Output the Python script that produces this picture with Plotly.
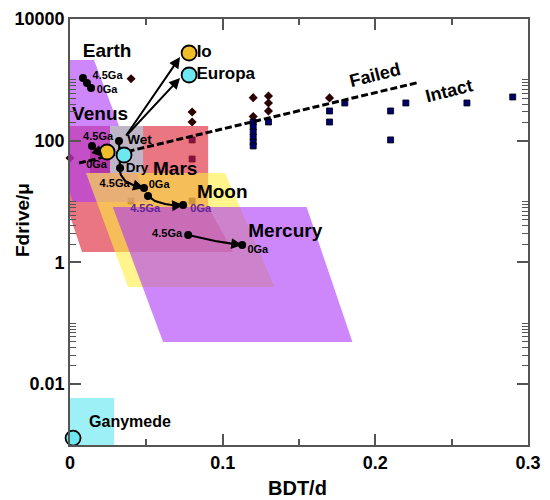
import math
import plotly.graph_objects as go

# ---------------- data ----------------
failed_x = [0.0, 0.040, 0.080, 0.080, 0.120, 0.120, 0.130, 0.130, 0.130, 0.170]
failed_y = [52, 1040, 296, 203, 510, 250, 543, 417, 308, 505]

intact_x = [0.080, 0.080, 0.040, 0.080, 0.120, 0.120, 0.120, 0.120, 0.120, 0.120,
            0.130, 0.170, 0.170, 0.180, 0.210, 0.210, 0.220, 0.260, 0.290]
intact_y = [103, 50, 10.2, 10.2, 203, 168, 139, 115, 95, 82,
            203, 308, 203, 417, 308, 103, 417, 417, 523]

venus_x = [0.0, 0.0905, 0.0905, 0.107, 0.0079, 0.0]
venus_y = [175, 175, 8.15, 1.49, 1.49, 5.8]
earth_x = [0.0, 0.0157, 0.0511, 0.002, 0.0]
earth_y = [2118, 2118, 9.84, 9.84, 13.8]
moon_x = [0.0105, 0.1016, 0.134, 0.038]
moon_y = [29.5, 29.5, 0.395, 0.395]
mercury_x = [0.028, 0.155, 0.185, 0.061]
mercury_y = [8.15, 8.15, 0.0493, 0.0493]
ganymede_x = [0.0, 0.0289, 0.0289, 0.0]
ganymede_y = [0.001, 0.001, 0.0059, 0.0059]
gray_x = [0.0262, 0.0479, 0.0479, 0.0262]
gray_y = [29.5, 29.5, 175, 175]
dark_x = [0.0131, 0.0262, 0.0262, 0.0131]
dark_y = [29.5, 29.5, 78.9, 78.9]

boundary_x = [0.0059, 0.228]
boundary_y = [43.0, 905]

earth_tr_x = [0.0085, 0.0111, 0.0138]
earth_tr_y = [1073, 888, 735]
venus_tr_x = [0.0144, 0.0216]
venus_tr_y = [81.9, 54.0]
wetdry_x = [0.0321, 0.0328]
wetdry_y = [99, 35.6]
mars_tr_x = [0.0321, 0.0334, 0.0361, 0.0413, 0.0485]
mars_tr_y = [35.6, 27.3, 21.8, 18.7, 16.7]
moon_tr_x = [0.0511, 0.0557, 0.0623, 0.0689, 0.0741]
moon_tr_y = [12.4, 10.2, 9.13, 8.62, 8.79]
merc_tr_x = [0.0774, 0.0852, 0.0951, 0.1049, 0.1128]
merc_tr_y = [2.82, 2.52, 2.25, 2.05, 1.93]

arrow_start = (0.0361, 115)
io_tip = (0.0721, 2375)
europa_tip = (0.0721, 1073)

circ_yellow_x = [0.0243, 0.0780]
circ_yellow_y = [65.3, 2763]
circ_cyan_x = [0.0354, 0.0780, 0.002]
circ_cyan_y = [58.3, 1202, 0.0013]

big_labels = ["Earth", "Venus", "Mars", "Moon", "Mercury"]
big_x = [0.0243, 0.0197, 0.0689, 0.0997, 0.141]
big_y = [2869, 265, 33.0, 13.8, 3.16]
moon_labels = ["Io", "Europa"]
moon_lx = [0.0879, 0.102]
moon_ly = [2763, 1202]
age_labels = ["4.5Ga", "0Ga", "4.5Ga", "0Ga", "4.5Ga", "0Ga", "4.5Ga", "0Ga"]
age_x = [0.0246, 0.0243, 0.0184, 0.0174, 0.0292, 0.0584, 0.0636, 0.123]
age_y = [1157, 681, 115, 39.9, 19.0, 18.6, 2.93, 1.60]
moon_age_labels = ["4.5Ga", "0Ga"]
moon_age_x = [0.0492, 0.0856]
moon_age_y = [7.55, 7.55]
wd_labels = ["Wet", "Dry"]
wd_x = [0.0456, 0.0439]
wd_y = [99, 34.3]

x_major = [0, 0.1, 0.2, 0.3]
x_major_text = ["0", "0.1", "0.2", "0.3"]
x_minor = [0.05, 0.15, 0.25]
y_major = [0.01, 1, 100, 10000]
y_major_text = ["0.01", "1", "100", "10000"]
y_minor = [k * 10 ** e for e in (-2, 0, 2) for k in range(2, 11)]

FONT = "Liberation Sans, Arial, sans-serif"
AX = "#555555"

fig = go.Figure()

# data points (drawn first so the translucent regions tint them)
fig.add_trace(go.Scatter(x=failed_x, y=failed_y, mode="markers", cliponaxis=False,
                         marker=dict(symbol="diamond", size=7, color="#2a0000"),
                         showlegend=False, hoverinfo="skip"))
fig.add_trace(go.Scatter(x=intact_x, y=intact_y, mode="markers",
                         marker=dict(symbol="square", size=6, color="#000070",
                                     line=dict(color="black", width=0.8)),
                         showlegend=False, hoverinfo="skip"))


def add_poly(xs, ys, color):
    fig.add_trace(go.Scatter(x=xs + [xs[0]], y=ys + [ys[0]], mode="lines",
                             fill="toself", fillcolor=color,
                             line=dict(width=0, color=color),
                             showlegend=False, hoverinfo="skip"))


add_poly(venus_x, venus_y, "rgba(218,27,43,0.6)")
add_poly(earth_x, earth_y, "rgba(172,55,247,0.6)")
add_poly(moon_x, moon_y, "rgba(255,238,63,0.6)")
add_poly(mercury_x, mercury_y, "rgba(172,55,247,0.6)")
add_poly(dark_x, dark_y, "rgb(180,55,170)")
add_poly(gray_x, gray_y, "rgb(190,182,198)")
add_poly(ganymede_x, ganymede_y, "rgba(140,238,245,0.85)")

# boundary
fig.add_trace(go.Scatter(x=boundary_x, y=boundary_y, mode="lines",
                         line=dict(color="black", width=3, dash="7px,3px"),
                         showlegend=False, hoverinfo="skip"))

# tracks
for tx, ty in [(earth_tr_x, earth_tr_y), (venus_tr_x, venus_tr_y), (wetdry_x, wetdry_y),
               (mars_tr_x, mars_tr_y), (moon_tr_x, moon_tr_y), (merc_tr_x, merc_tr_y)]:
    fig.add_trace(go.Scatter(x=tx, y=ty, mode="lines", line=dict(color="black", width=2.2),
                             showlegend=False, hoverinfo="skip"))

dot_x = earth_tr_x + [venus_tr_x[0], wetdry_x[0], wetdry_x[1], mars_tr_x[-1],
                      moon_tr_x[0], moon_tr_x[-1], merc_tr_x[0], merc_tr_x[-1]]
dot_y = earth_tr_y + [venus_tr_y[0], wetdry_y[0], wetdry_y[1], mars_tr_y[-1],
                      moon_tr_y[0], moon_tr_y[-1], merc_tr_y[0], merc_tr_y[-1]]
fig.add_trace(go.Scatter(x=dot_x, y=dot_y, mode="markers",
                         marker=dict(size=8, color="black"), showlegend=False, hoverinfo="skip"))

fig.add_trace(go.Scatter(x=circ_yellow_x, y=circ_yellow_y, mode="markers", cliponaxis=False,
                         marker=dict(size=15, color="rgb(240,190,40)", line=dict(color="black", width=1.8)),
                         showlegend=False, hoverinfo="skip"))
fig.add_trace(go.Scatter(x=circ_cyan_x, y=circ_cyan_y, mode="markers", cliponaxis=False,
                         marker=dict(size=15, color="rgb(110,232,240)", line=dict(color="black", width=1.8)),
                         showlegend=False, hoverinfo="skip"))


def add_text(labels, xs, ys, size, color="black"):
    fig.add_trace(go.Scatter(x=xs, y=ys, mode="text", text=labels, cliponaxis=False,
                             textposition="middle center",
                             textfont=dict(family=FONT, size=size, color=color, weight="bold"),
                             showlegend=False, hoverinfo="skip"))


add_text(big_labels, big_x, big_y, 19)
add_text(moon_labels, moon_lx, moon_ly, 17)
add_text(["Ganymede"], [0.0393], [0.0023], 16)
add_text(age_labels, age_x, age_y, 11)
add_text(moon_age_labels, moon_age_x, moon_age_y, 11, "rgb(100,35,150)")
add_text(wd_labels, wd_x, wd_y, 13.5)

# empty trace on the mirror axes so the top/right tick sets are drawn
fig.add_trace(go.Scatter(x=[None], y=[None], xaxis="x2", yaxis="y2",
                         showlegend=False, hoverinfo="skip"))

L = math.log10
ann = []


def arrow(x0, y0, x1, y1):
    ann.append(dict(x=x1, y=L(y1), ax=x0, ay=L(y0), xref="x", yref="y", axref="x", ayref="y",
                    showarrow=True, arrowhead=2, arrowsize=1.1, arrowwidth=2,
                    arrowcolor="black", text=""))


arrow(arrow_start[0], arrow_start[1], io_tip[0], io_tip[1])
arrow(arrow_start[0], arrow_start[1], europa_tip[0], europa_tip[1])
for tx, ty in [(venus_tr_x, venus_tr_y), (mars_tr_x, mars_tr_y),
               (moon_tr_x, moon_tr_y), (merc_tr_x, merc_tr_y)]:
    arrow(tx[-2], ty[-2], tx[-1], ty[-1])

ann.append(dict(x=0.2, y=3.08, xref="x", yref="y", text="Failed", showarrow=False, textangle=-14,
                font=dict(family=FONT, size=18, color="black", weight="bold")))
ann.append(dict(x=0.248, y=2.817, xref="x", yref="y", text="Intact", showarrow=False, textangle=-14,
                font=dict(family=FONT, size=18, color="black", weight="bold")))
ann.append(dict(x=0.496, y=-0.101, xref="paper", yref="paper", text="BDT/d", showarrow=False,
                xanchor="center", yanchor="middle",
                font=dict(family=FONT, size=20, color="black", weight="bold")))
ann.append(dict(x=-0.105, y=0.528, xref="paper", yref="paper", text="Fdrive/μ", showarrow=False,
                xanchor="center", yanchor="middle",
                textangle=-90, font=dict(family=FONT, size=19, color="black", weight="bold")))

tickfont = dict(family=FONT, size=18, color="black", weight="bold")
xminor = dict(tickvals=x_minor, ticks="inside", ticklen=6, tickwidth=1.5, tickcolor=AX, showgrid=False)
yminor = dict(tickvals=y_minor, ticks="inside", ticklen=6, tickwidth=1.2, tickcolor=AX, showgrid=False)

# page body has an 8px margin: shift the figure so the plot area lands where the reference has it
fig.update_layout(
    width=542, height=492,
    margin=dict(l=62, r=22, t=11, b=55, autoexpand=False),
    paper_bgcolor="white", plot_bgcolor="white",
    annotations=ann,
    xaxis=dict(range=[0, 0.3], tickvals=x_major, ticktext=x_major_text, automargin=False,
               ticks="inside", ticklen=11, tickwidth=1.5, tickcolor=AX,
               showline=True, linecolor=AX, linewidth=1.8, mirror=True,
               showgrid=False, zeroline=False, tickfont=tickfont, minor=xminor),
    yaxis=dict(type="log", range=[-3, 4], tickvals=y_major, ticktext=y_major_text, automargin=False,
               ticks="inside", ticklen=11, tickwidth=1.5, tickcolor=AX,
               showline=True, linecolor=AX, linewidth=1.8, mirror=True,
               showgrid=False, zeroline=False, tickfont=tickfont, minor=yminor),
    xaxis2=dict(overlaying="x", side="top", anchor="y2", range=[0, 0.3], tickvals=x_major,
                automargin=False,
                ticks="inside", ticklen=11, tickwidth=1.5, tickcolor=AX, showticklabels=False,
                showline=False, showgrid=False, zeroline=False, minor=xminor),
    yaxis2=dict(overlaying="y", side="right", anchor="x2", type="log", range=[-3, 4],
                automargin=False,
                tickvals=y_major, ticks="inside", ticklen=11, tickwidth=1.5, tickcolor=AX,
                showticklabels=False, showline=False, showgrid=False, zeroline=False,
                minor=yminor),
)

fig.write_html("out.html")
